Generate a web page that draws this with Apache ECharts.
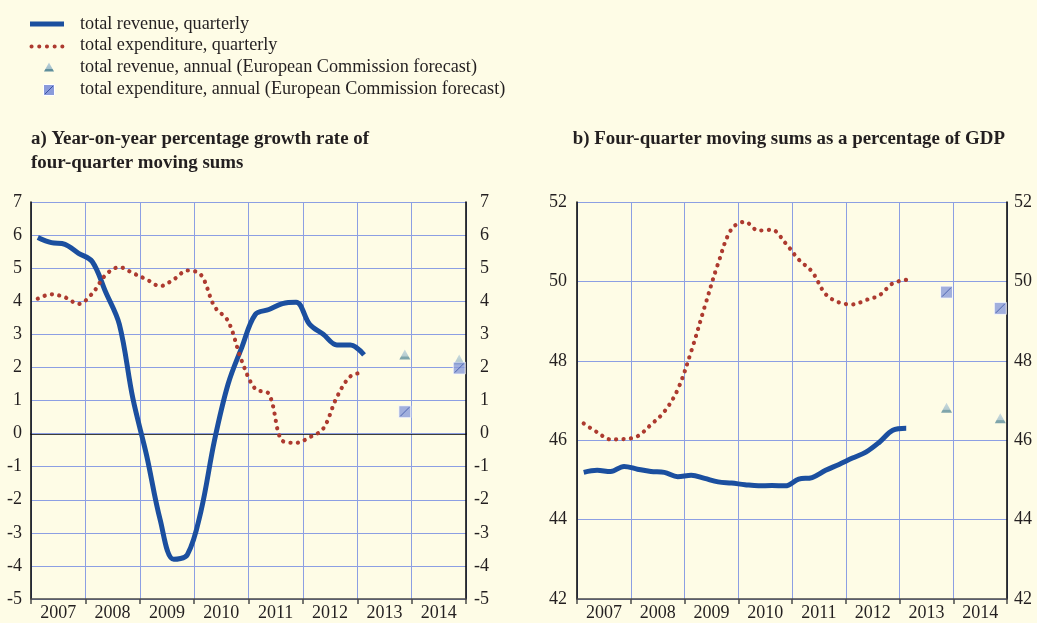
<!DOCTYPE html>
<html>
<head>
<meta charset="utf-8">
<script src="https://cdn.jsdelivr.net/npm/echarts@6/dist/echarts.min.js"></script>
<style>
  html, body { margin: 0; padding: 0; background: #fefce6; }
  #chart { width: 1037px; height: 623px; }
</style>
</head>
<body>
<div id="chart"></div>
<script>
// Year bands on the horizontal axis; quarterly observations run 2007Q1-2013Q1
const years = ['2007', '2008', '2009', '2010', '2011', '2012', '2013', '2014'];

// a) year-on-year growth of four-quarter moving sums (%)
const revenueGrowth = [5.93, 5.77, 5.72, 5.45, 5.2, 4.27, 3.3, 1.05, -0.65, -2.6, -3.8, -3.66,
  -2.35, -0.2, 1.5, 2.6, 3.6, 3.75, 3.93, 3.97, 3.3, 3.0, 2.68, 2.68, 2.38];
const expenditureGrowth = [4.08, 4.21, 4.12, 3.92, 4.23, 4.8, 5.03, 4.85, 4.66, 4.46, 4.66, 4.93,
  4.8, 3.84, 3.4, 2.2, 1.35, 1.2, -0.22, -0.28, -0.11, 0.15, 1.1, 1.73, 1.85];

// b) four-quarter moving sums as a percentage of GDP
const revenueShare = [45.19, 45.24, 45.21, 45.34, 45.27, 45.21, 45.19, 45.08, 45.12, 45.04, 44.95, 44.92,
  44.88, 44.85, 44.86, 44.85, 45.02, 45.06, 45.24, 45.39, 45.55, 45.7, 45.95, 46.25, 46.3];
const expenditureShare = [46.42, 46.2, 46.02, 46.03, 46.1, 46.39, 46.72, 47.28, 48.24, 49.36, 50.45, 51.32,
  51.5, 51.28, 51.3, 50.97, 50.55, 50.24, 49.68, 49.47, 49.42, 49.53, 49.65, 49.95, 50.04];

// European Commission annual forecasts, placed at the last quarter of each year
const forecastQuarters = ['2013Q4', '2014Q4'];
const revenueGrowthForecast = [2.39, 2.24];
const expenditureGrowthForecast = [0.66, 1.98];
const revenueShareForecast = [46.82, 46.55];
const expenditureShareForecast = [49.73, 49.32];

// value-axis ranges
const growthAxis = { min: -5, max: 7, interval: 1 };
const shareAxis = { min: 42, max: 52, interval: 2 };

const legendLabels = [
  'total revenue, quarterly',
  'total expenditure, quarterly',
  'total revenue, annual (European Commission forecast)',
  'total expenditure, annual (European Commission forecast)'
];
const panelTitles = [
  'a) Year-on-year percentage growth rate of\nfour-quarter moving sums',
  'b) Four-quarter moving sums as a percentage of GDP'
];

const quarters = years.flatMap(y => ['Q1', 'Q2', 'Q3', 'Q4'].map(q => y + q));

const FONT = '"Liberation Serif", "Times New Roman", serif';
const TEXT = '#231f20';
const GRID_BLUE = '#8c9fe3';
const REV_BLUE = '#1b4f9f';
const EXP_RED = '#ad3a2f';
const SQ_FILL = '#8a9bdb';
const SQ_HATCH = '#3a52a6';
const TRI_FILL = {
  type: 'linear', x: 0, y: 0, x2: 0, y2: 1,
  colorStops: [
    { offset: 0, color: '#bcd2dc' },
    { offset: 0.68, color: '#a3bfca' },
    { offset: 0.72, color: '#5f8f9c' },
    { offset: 1, color: '#5f8f9c' }
  ]
};

const grids = [
  { left: 31, right: 571, top: 202, bottom: 24 },
  { left: 577, right: 30, top: 202, bottom: 24 }
];

function quarterAxis(gridIndex, showZeroLine) {
  return {
    type: 'category', gridIndex, data: quarters, boundaryGap: true, position: 'bottom',
    axisLine: { show: showZeroLine, onZero: true, lineStyle: { color: '#000', width: 1.5 } },
    axisTick: { show: false }, axisLabel: { show: false },
    splitLine: { show: true, interval: 3, lineStyle: { color: GRID_BLUE, width: 1 } },
    z: 3
  };
}
function yearAxis(gridIndex) {
  return {
    type: 'category', gridIndex, data: years, boundaryGap: true, position: 'bottom',
    axisLine: { onZero: false, lineStyle: { color: '#4a4a4a', width: 1.5 } },
    axisTick: { show: true, length: 5, lineStyle: { color: '#4a4a4a', width: 1.5 } },
    axisLabel: { margin: 5, fontSize: 18, fontFamily: FONT, color: TEXT },
    splitLine: { show: false }, z: 4
  };
}
function valueAxis(gridIndex, range, side) {
  const right = side === 'right';
  return {
    type: 'value', gridIndex, position: side, min: range.min, max: range.max, interval: range.interval,
    axisLine: { show: true, lineStyle: { color: '#000', width: 1.5 } },
    axisTick: { show: false },
    axisLabel: {
      fontSize: 18, fontFamily: FONT, color: TEXT,
      margin: right ? (gridIndex === 0 ? 23 : 25) : (gridIndex === 0 ? 9 : 10),
      align: 'right'
    },
    splitLine: { show: !right, lineStyle: { color: GRID_BLUE, width: 1 } },
    z: 4
  };
}

function panelSeries(gi, revenue, expenditure, revForecast, expForecast) {
  const xq = gi * 2;      // quarter axis of this panel
  const yl = gi * 2;      // left value axis of this panel
  const pair = (vals) => forecastQuarters.map((q, i) => [q, vals[i]]);
  return [
    {
      type: 'line', name: legendLabels[0], xAxisIndex: xq, yAxisIndex: yl, data: revenue,
      smooth: 0.35, showSymbol: false, symbol: 'none', z: 5,
      lineStyle: { color: REV_BLUE, width: 5 }
    },
    {
      type: 'line', name: legendLabels[1], xAxisIndex: xq, yAxisIndex: yl, data: expenditure,
      smooth: 0.35, showSymbol: false, symbol: 'none', z: 6,
      lineStyle: { color: EXP_RED, width: 4.2, type: [0.1, 7.3], cap: 'round' }
    },
    {
      type: 'scatter', name: legendLabels[2], xAxisIndex: xq, yAxisIndex: yl, data: pair(revForecast),
      symbol: 'triangle', symbolSize: [11, 10], z: 7,
      itemStyle: { color: TRI_FILL }
    },
    {
      type: 'scatter', name: legendLabels[3], xAxisIndex: xq, yAxisIndex: yl, data: pair(expForecast),
      symbol: 'rect', symbolSize: 12, z: 8,
      itemStyle: { color: SQ_FILL, borderColor: '#ffffff', borderWidth: 1 }
    },
    {
      // diagonal hatching drawn over the forecast squares
      type: 'scatter', xAxisIndex: xq, yAxisIndex: yl, data: pair(expForecast),
      symbol: 'path://M0,10L10,0', symbolSize: 9, z: 9, silent: true,
      itemStyle: { color: 'rgba(0,0,0,0)', borderColor: SQ_HATCH, borderWidth: 1 }
    }
  ];
}

// legend drawn as a small block of graphic elements
const legendRows = [24, 45.5, 67.5, 89];
const legendGraphic = [
  { type: 'line', shape: { x1: 30, y1: legendRows[0], x2: 64, y2: legendRows[0] },
    style: { stroke: REV_BLUE, lineWidth: 5 } },
  { type: 'line', shape: { x1: 31.5, y1: legendRows[1] + 1, x2: 64, y2: legendRows[1] + 1 },
    style: { stroke: EXP_RED, lineWidth: 4, lineDash: [0.1, 7.6], lineCap: 'round' } },
  { type: 'polygon', shape: { points: [[49, legendRows[2] - 5], [54, legendRows[2] + 4], [44, legendRows[2] + 4]] },
    style: { fill: TRI_FILL } },
  { type: 'rect', shape: { x: 43.5, y: legendRows[3] - 4.5, width: 11, height: 11 },
    style: { fill: SQ_FILL, stroke: '#ffffff', lineWidth: 1 } },
  { type: 'line', shape: { x1: 45, y1: legendRows[3] + 5, x2: 53, y2: legendRows[3] - 3 },
    style: { stroke: SQ_HATCH, lineWidth: 1 } }
].concat(legendLabels.map((t, i) => ({
  type: 'text', x: 80, y: legendRows[i],
  style: { text: t, font: '18.2px ' + FONT, fill: TEXT, verticalAlign: 'middle', textAlign: 'left' }
})));

const titleStyle = { fontFamily: FONT, fontWeight: 'bold', fontSize: 18.9, lineHeight: 24, color: TEXT };

const option = {
  backgroundColor: '#fefce6',
  animation: false,
  title: [
    { text: panelTitles[0], left: 31, top: 127, padding: 0, textStyle: titleStyle },
    { text: panelTitles[1], right: 32, top: 127, padding: 0, textStyle: titleStyle }
  ],
  grid: grids,
  xAxis: [quarterAxis(0, true), yearAxis(0), quarterAxis(1, false), yearAxis(1)],
  yAxis: [
    valueAxis(0, growthAxis, 'left'), valueAxis(0, growthAxis, 'right'),
    valueAxis(1, shareAxis, 'left'), valueAxis(1, shareAxis, 'right')
  ],
  series: [
    ...panelSeries(0, revenueGrowth, expenditureGrowth, revenueGrowthForecast, expenditureGrowthForecast),
    ...panelSeries(1, revenueShare, expenditureShare, revenueShareForecast, expenditureShareForecast)
  ],
  graphic: legendGraphic
};

const chart = echarts.init(document.getElementById('chart'), null, { renderer: 'canvas' });
chart.setOption(option);
</script>
</body>
</html>
